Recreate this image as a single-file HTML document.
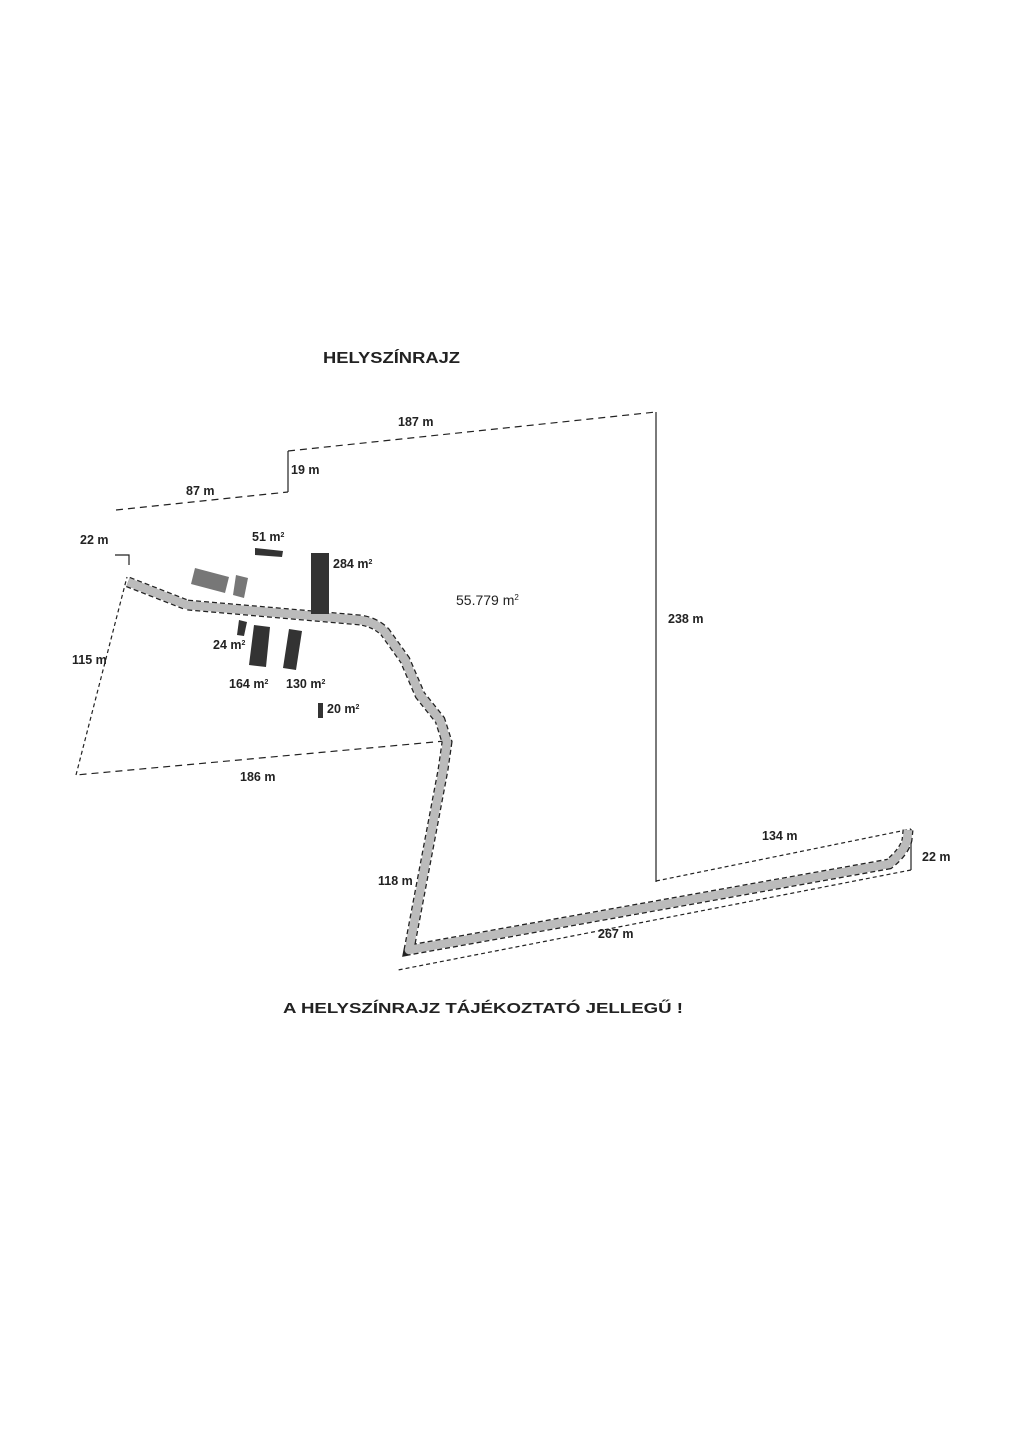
<!DOCTYPE html>
<html><head><meta charset="utf-8"><style>
html,body{margin:0;padding:0;background:#fff;}
svg{display:block;}
text{font-family:"Liberation Sans",Arial,sans-serif;font-weight:bold;fill:#222;}
</style></head><body>
<svg width="1024" height="1448" viewBox="0 0 1024 1448" xmlns="http://www.w3.org/2000/svg">
<rect width="1024" height="1448" fill="#fff"/>
<text x="323" y="363" font-size="16" textLength="137" lengthAdjust="spacingAndGlyphs">HELYSZÍNRAJZ</text>

<g stroke="#222" fill="none" stroke-width="1.2">
  <path d="M116,510 L288,492" stroke-dasharray="7,5"/>
  <path d="M288,492 L288,451"/>
  <path d="M288,451 L656,412" stroke-dasharray="7,5"/>
  <path d="M656,412 L656,882"/>
  <path d="M656,881 L911,829" stroke-dasharray="4,3"/>
  <path d="M911,829 L911,870"/>
  <path d="M911,870 L398,970" stroke-dasharray="4,3"/>
  <path d="M445,741 L76,775" stroke-dasharray="7,5"/>
  <path d="M76,775 L127,577" stroke-dasharray="4,3"/>
  <path d="M115,555 L129,555 L129,565"/>
</g>

<!-- road -->
<path d="M128,582 L187,605 L360,620 Q375,622 385,632 L405,660 L420,695 L440,720 L447,742 L443,770 L409,950 L889,864 Q904,852 907,840 L908,830" fill="none" stroke="#222" stroke-width="11" stroke-dasharray="5,3"/>
<path d="M128,582 L187,605 L360,620 Q375,622 385,632 L405,660 L420,695 L440,720 L447,742 L443,770 L409,950 L889,864 Q904,852 907,840 L908,830" fill="none" stroke="#bbb" stroke-width="8.5" stroke-linejoin="round"/>

<!-- buildings -->
<polygon points="255,548 283,551 282,557 255,555" fill="#333"/>
<polygon points="195,568 229,577 225,593 191,584" fill="#777"/>
<polygon points="236,575 248,578 244,598 233,595" fill="#777"/>
<rect x="311" y="553" width="18" height="61" fill="#333"/>
<polygon points="239,620 247,622 244,636 237,635" fill="#333"/>
<polygon points="254,625 270,627 266,667 249,665" fill="#333"/>
<polygon points="289,629 302,631 296,670 283,668" fill="#333"/>
<rect x="318" y="703" width="5" height="15" fill="#333"/>

<g font-size="12.5">
  <text x="398" y="426">187 m</text>
  <text x="291" y="474">19 m</text>
  <text x="186" y="495">87 m</text>
  <text x="80" y="544">22 m</text>
  <text x="252" y="541">51 m<tspan font-size="7" dy="-4">2</tspan></text>
  <text x="333" y="568">284 m<tspan font-size="7" dy="-4">2</tspan></text>
  <text x="213" y="649">24 m<tspan font-size="7" dy="-4">2</tspan></text>
  <text x="229" y="688">164 m<tspan font-size="7" dy="-4">2</tspan></text>
  <text x="286" y="688">130 m<tspan font-size="7" dy="-4">2</tspan></text>
  <text x="327" y="713">20 m<tspan font-size="7" dy="-4">2</tspan></text>
  <text x="72" y="664">115 m</text>
  <text x="240" y="781">186 m</text>
  <text x="668" y="623">238 m</text>
  <text x="762" y="840">134 m</text>
  <text x="922" y="861">22 m</text>
  <text x="378" y="885">118 m</text>
  <text x="598" y="938">267 m</text>
</g>
<text x="456" y="605" font-size="14" style="font-weight:normal">55.779 m<tspan font-size="8" dy="-5">2</tspan></text>

<text x="283" y="1013" font-size="15" textLength="400" lengthAdjust="spacingAndGlyphs">A HELYSZÍNRAJZ TÁJÉKOZTATÓ JELLEGŰ !</text>
</svg>
</body></html>
